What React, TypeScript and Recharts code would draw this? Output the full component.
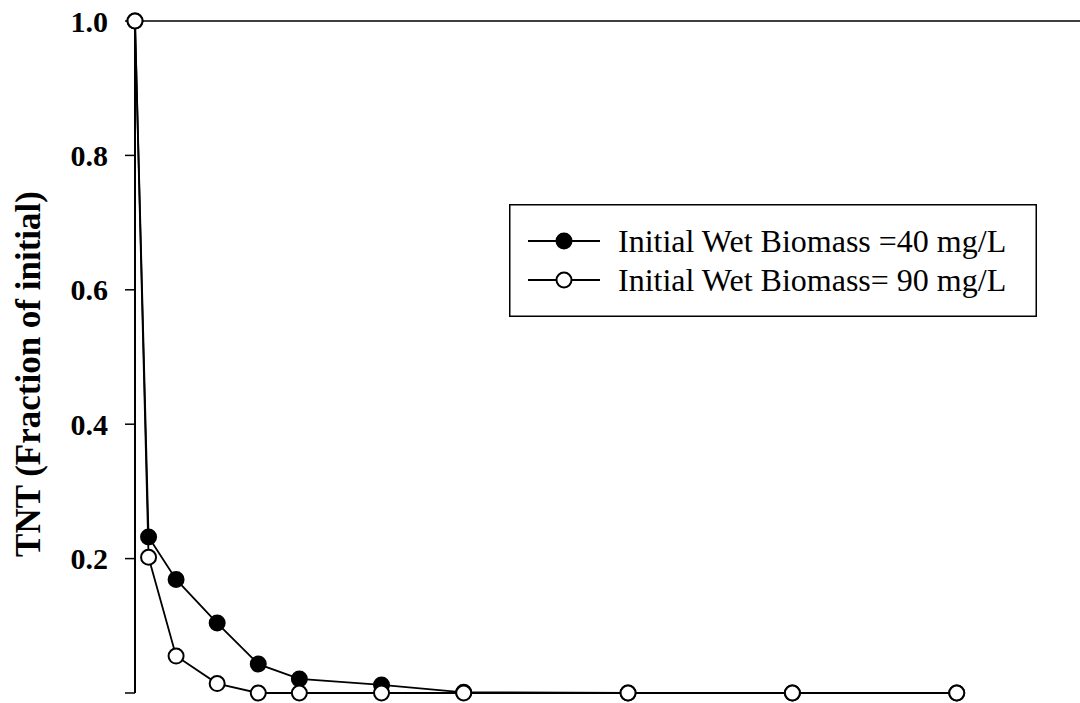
import { LineChart, Line, XAxis, YAxis, ReferenceLine, Legend, Label } from 'recharts';

// time points (x)
const times = [0, 0.33, 1, 2, 3, 4, 6, 8, 12, 16, 20];
// TNT fraction of initial, wet biomass 40 mg/L (filled markers)
const biomass40 = [1.0, 0.232, 0.169, 0.104, 0.043, 0.021, 0.012, 0.001, 0, 0, 0];
// TNT fraction of initial, wet biomass 90 mg/L (open markers)
const biomass90 = [1.0, 0.202, 0.055, 0.014, 0.0, 0.0, 0.0, 0.0, 0.0, 0.0, 0.0];
const yTicks = [0, 0.2, 0.4, 0.6, 0.8, 1.0];
const seriesNames = ['Initial Wet Biomass =40 mg/L', 'Initial Wet Biomass= 90 mg/L'];
const seriesFills = ['#000000', '#ffffff'];

const FONT = '"Liberation Serif", "Times New Roman", serif';

const chartData = times.map((t, i) => ({ t, b40: biomass40[i], b90: biomass90[i] }));

function LegendBox() {
  return (
    <svg width={528} height={113} style={{ display: 'block' }}>
      <rect x={0.75} y={0.75} width={526.5} height={111.5} fill="#fff" stroke="#000" strokeWidth={1.5} />
      {seriesNames.map((name, i) => {
        const cy = i === 0 ? 37 : 76;
        return (
          <g key={name}>
            <line x1={19} x2={91} y1={cy} y2={cy} stroke="#000" strokeWidth={1.8} />
            <circle cx={55} cy={cy} r={7.5} fill={seriesFills[i]} stroke="#000" strokeWidth={2} />
            <text x={109} y={cy + 11} fontFamily={FONT} fontSize={32} fill="#000">
              {name}
            </text>
          </g>
        );
      })}
    </svg>
  );
}

export default function App() {
  return (
    <div style={{ position: 'absolute', left: 0, top: 0, width: 1080, height: 703, background: '#fff' }}>
      <LineChart
        width={1080}
        height={703}
        data={chartData}
        margin={{ top: 21, right: 0, left: 0, bottom: 10 }}
      >
        <XAxis dataKey="t" type="number" domain={[0, 23]} hide />
        <YAxis
          type="number"
          domain={[0, 1]}
          ticks={yTicks}
          width={135}
          tickSize={10}
          tickMargin={17}
          axisLine={{ stroke: '#000', strokeWidth: 2 }}
          tickLine={{ stroke: '#000', strokeWidth: 1.5 }}
          tick={{ fill: '#000', fontFamily: FONT, fontSize: 30, fontWeight: 700 }}
          tickFormatter={(v: number) => (v === 0 ? '' : v.toFixed(1))}
        >
          <Label
            content={({ viewBox }: any) => {
              const cy = viewBox.y + viewBox.height / 2 + 17;
              return (
                <text
                  x={40}
                  y={cy}
                  transform={`rotate(-90 40 ${cy})`}
                  textAnchor="middle"
                  fontFamily={FONT}
                  fontSize={35}
                  fontWeight={700}
                  fill="#000"
                >
                  TNT (Fraction of initial)
                </text>
              );
            }}
          />
        </YAxis>
        <ReferenceLine y={1} stroke="#000" strokeWidth={1.5} ifOverflow="visible" />
        <Legend
          layout="horizontal"
          verticalAlign="middle"
          align="center"
          content={() => <LegendBox />}
          wrapperStyle={{ position: 'absolute', left: 509, top: 204, width: 528, height: 113 }}
        />
        <Line
          dataKey="b40"
          name={seriesNames[0]}
          stroke="#000"
          strokeWidth={1.8}
          dot={{ r: 7.5, fill: seriesFills[0], stroke: '#000', strokeWidth: 2 }}
          isAnimationActive={false}
        />
        <Line
          dataKey="b90"
          name={seriesNames[1]}
          stroke="#000"
          strokeWidth={1.8}
          dot={{ r: 7.5, fill: seriesFills[1], stroke: '#000', strokeWidth: 2 }}
          isAnimationActive={false}
        />
      </LineChart>
    </div>
  );
}
